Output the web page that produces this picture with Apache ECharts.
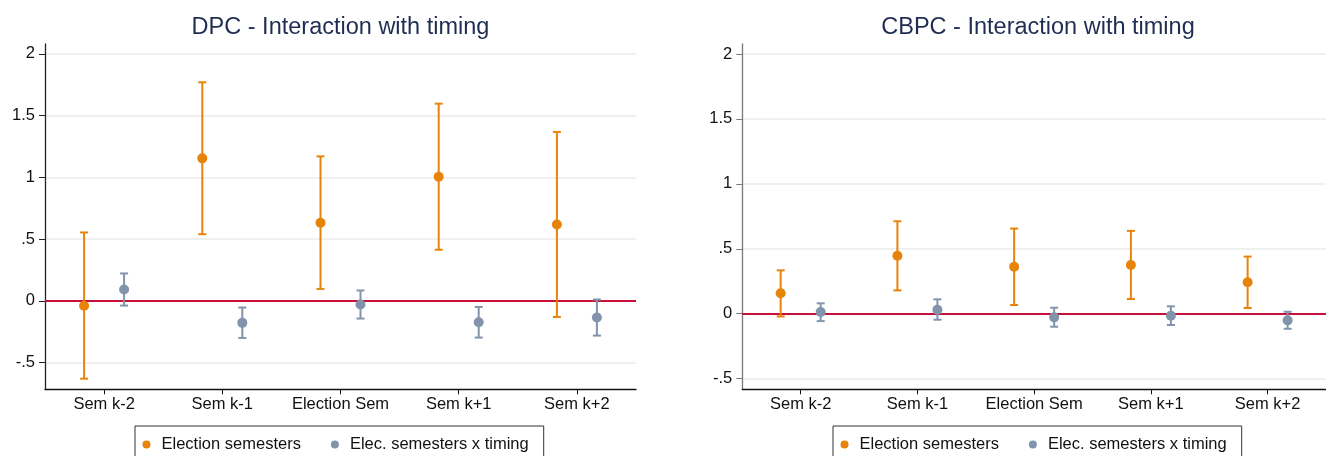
<!DOCTYPE html>
<html>
<head>
<meta charset="utf-8">
<script src="https://cdn.jsdelivr.net/npm/echarts@6/dist/echarts.min.js"></script>
<style>html,body{margin:0;padding:0;background:#fff;}#c{width:1326px;height:456px;}</style>
</head>
<body>
<div id="c"></div>
<script>
const categories = ['Sem k-2', 'Sem k-1', 'Election Sem', 'Sem k+1', 'Sem k+2'];
const yTicks = [-0.5, 0, 0.5, 1, 1.5, 2];
const seriesNames = ['Election semesters', 'Elec. semesters x timing'];
const panelTitles = ['DPC - Interaction with timing', 'CBPC - Interaction with timing'];

// DPC panel
const dpcElecPoint = [-0.04, 1.154, 0.632, 1.005, 0.619];
const dpcElecLow = [-0.63, 0.54, 0.097, 0.414, -0.13];
const dpcElecHigh = [0.554, 1.77, 1.17, 1.597, 1.368];
const dpcTimingPoint = [0.092, -0.178, -0.03, -0.173, -0.135];
const dpcTimingLow = [-0.038, -0.30, -0.143, -0.297, -0.281];
const dpcTimingHigh = [0.222, -0.054, 0.084, -0.049, 0.011];

// CBPC panel
const cbpcElecPoint = [0.157, 0.447, 0.362, 0.375, 0.242];
const cbpcElecLow = [-0.021, 0.18, 0.067, 0.113, 0.044];
const cbpcElecHigh = [0.334, 0.712, 0.656, 0.638, 0.44];
const cbpcTimingPoint = [0.013, 0.031, -0.028, -0.015, -0.051];
const cbpcTimingLow = [-0.057, -0.046, -0.10, -0.087, -0.116];
const cbpcTimingHigh = [0.080, 0.111, 0.046, 0.057, 0.015];

const ORANGE = '#e8830a';
const BLUE = '#8194ab';
const FONT = "'Liberation Sans', Arial, sans-serif";

const chart = echarts.init(document.getElementById('c'), null, {renderer: 'canvas'});

function errorBars(gridIdx, lo, hi, color, offset, name) {
  return {
    type: 'custom', name: name, xAxisIndex: gridIdx, yAxisIndex: gridIdx,
    silent: true, z: 3,
    data: categories.map((c, i) => [i, lo[i], hi[i]]),
    renderItem: function (params, api) {
      const a = api.coord([api.value(0), api.value(1)]);
      const b = api.coord([api.value(0), api.value(2)]);
      const x = a[0] + offset;
      const st = {stroke: color, lineWidth: 2};
      const hw = 4;
      return {type: 'group', children: [
        {type: 'line', shape: {x1: x, y1: a[1], x2: x, y2: b[1]}, style: st},
        {type: 'line', shape: {x1: x - hw, y1: a[1], x2: x + hw, y2: a[1]}, style: st},
        {type: 'line', shape: {x1: x - hw, y1: b[1], x2: x + hw, y2: b[1]}, style: st}
      ]};
    }
  };
}

function points(gridIdx, vals, color, offset, name, withZero) {
  const s = {
    type: 'scatter', name: name, xAxisIndex: gridIdx, yAxisIndex: gridIdx,
    data: vals, symbol: 'circle', symbolSize: 10, symbolOffset: [offset, 0],
    itemStyle: {color: color, opacity: 1}, z: 4, silent: true
  };
  if (withZero) {
    s.markLine = {
      silent: true, symbol: 'none', label: {show: false}, z: 2,
      lineStyle: {color: '#c8103a', width: 2, type: 'solid'},
      data: [{yAxis: 0}]
    };
  }
  return s;
}

function fmt(v) {
  return String(v).replace('0.', '.');
}

function yAxis(gridIdx, min, max, lineColor) {
  return {
    type: 'value', gridIndex: gridIdx, min: min, max: max,
    axisLine: {show: true, lineStyle: {color: lineColor, width: 1.3}},
    axisTick: {show: true, length: 6, customValues: yTicks, lineStyle: {color: lineColor, width: 1}},
    axisLabel: {customValues: yTicks, formatter: fmt, color: '#111', fontSize: 16.5, fontFamily: FONT, margin: 10},
    splitLine: {show: true, lineStyle: {color: '#ebebeb', width: 1.5}}
  };
}

function xAxis(gridIdx) {
  return {
    type: 'category', gridIndex: gridIdx, data: categories, boundaryGap: true,
    axisLine: {show: true, onZero: false, lineStyle: {color: '#111', width: 1.3}},
    axisTick: {show: true, alignWithLabel: true, length: 5, lineStyle: {color: '#111'}},
    axisLabel: {color: '#111', fontSize: 16.5, fontFamily: FONT, margin: 7, interval: 0},
    splitLine: {show: false}
  };
}

const legendCommon = {
  orient: 'horizontal', icon: 'circle', itemWidth: 20, itemHeight: 8, itemGap: 30,
  borderColor: '#333', borderWidth: 1, borderRadius: 0,
  padding: [10, 15, 30, 7.5], backgroundColor: '#fff',
  textStyle: {color: '#111', fontSize: 16.5, fontFamily: FONT},
  selectedMode: false,
  data: [{name: seriesNames[0], itemStyle: {color: ORANGE}}, {name: seriesNames[1], itemStyle: {color: BLUE}}]
};

chart.setOption({
  backgroundColor: '#fff',
  animation: false,
  title: [
    {text: panelTitles[0], left: 335.5, top: 11, textAlign: 'center',
     textStyle: {color: '#1f2d52', fontSize: 23.5, fontWeight: 'normal', fontFamily: FONT}},
    {text: panelTitles[1], left: 1033, top: 11, textAlign: 'center',
     textStyle: {color: '#1f2d52', fontSize: 23.5, fontWeight: 'normal', fontFamily: FONT}}
  ],
  legend: [
    Object.assign({left: 135, top: 426}, legendCommon),
    Object.assign({left: 833, top: 426}, legendCommon)
  ],
  grid: [
    {left: 45, top: 44, width: 591, height: 345.3},
    {left: 742.3, top: 44, width: 591.5, height: 345.3}
  ],
  xAxis: [xAxis(0), xAxis(1)],
  yAxis: [yAxis(0, -0.716, 2.08, '#222'), yAxis(1, -0.582, 2.077, '#777')],
  series: [
    errorBars(0, dpcElecLow, dpcElecHigh, ORANGE, -20, seriesNames[0]),
    errorBars(0, dpcTimingLow, dpcTimingHigh, BLUE, 20, seriesNames[1]),
    points(0, dpcElecPoint, ORANGE, -20, seriesNames[0], true),
    points(0, dpcTimingPoint, BLUE, 20, seriesNames[1], false),
    errorBars(1, cbpcElecLow, cbpcElecHigh, ORANGE, -20, seriesNames[0]),
    errorBars(1, cbpcTimingLow, cbpcTimingHigh, BLUE, 20, seriesNames[1]),
    points(1, cbpcElecPoint, ORANGE, -20, seriesNames[0], true),
    points(1, cbpcTimingPoint, BLUE, 20, seriesNames[1], false)
  ]
});
</script>
</body>
</html>
